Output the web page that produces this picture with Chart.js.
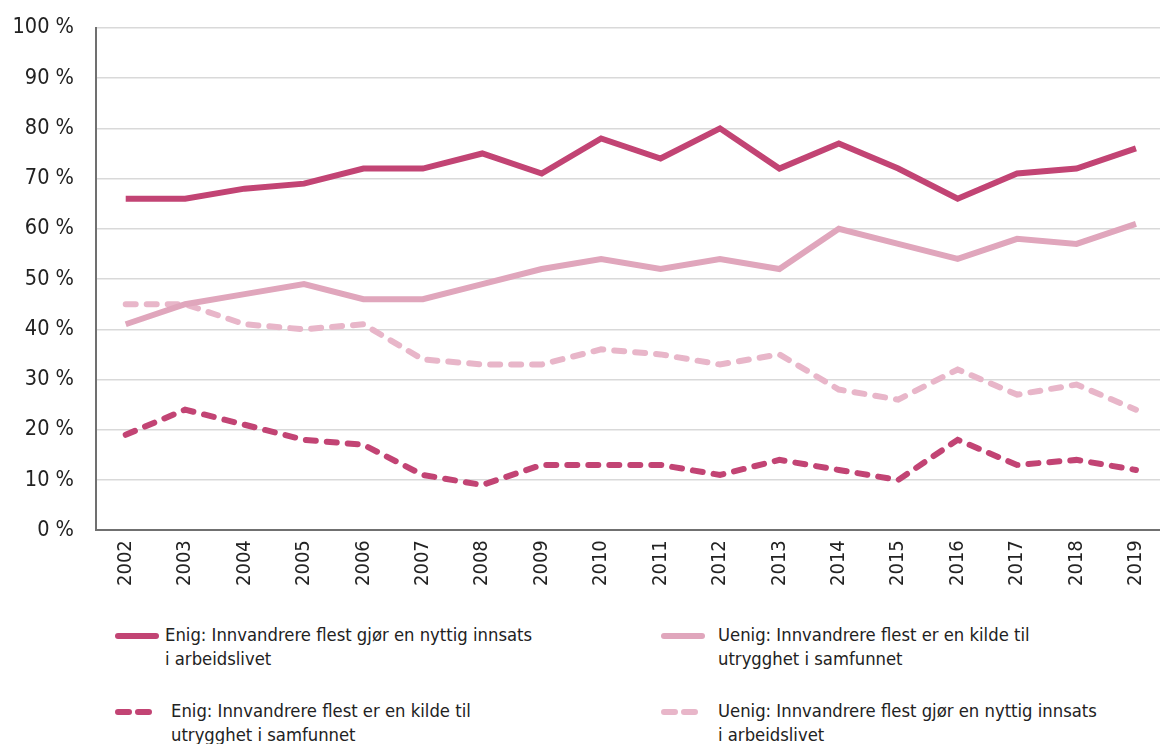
<!DOCTYPE html>
<html>
<head>
<meta charset="utf-8">
<script src="https://cdn.jsdelivr.net/npm/chart.js@4/dist/chart.umd.min.js"></script>
<style>
  html, body { margin: 0; padding: 0; background: #fff; overflow: hidden; width: 1160px; height: 744px; }
  #wrap { position: absolute; left: 0; top: -7px; width: 1170px; height: 603px; }
  #legend { position: absolute; left: 0; top: 614px; width: 1160px; height: 130px;
            font-family: "DejaVu Sans Condensed", "DejaVu Sans", sans-serif; font-size: 18.3px; color: #222; }
  .item { position: absolute; line-height: 24px; }
  .item .txt { position: absolute; white-space: nowrap; }
  .item canvas { position: absolute; }
</style>
</head>
<body>
<div id="wrap"><canvas id="c" width="1170" height="603"></canvas></div>
<div id="legend"></div>
<script>
const years = ["2002","2003","2004","2005","2006","2007","2008","2009","2010","2011","2012","2013","2014","2015","2016","2017","2018","2019"];
const enigNyttig   = [66,66,68,69,72,72,75,71,78,74,80,72,77,72,66,71,72,76];
const uenigKilde   = [41,45,47,49,46,46,49,52,54,52,54,52,60,57,54,58,57,61];
const enigKilde    = [19,24,21,18,17,11,9,13,13,13,11,14,12,10,18,13,14,12];
const uenigNyttig  = [45,45,41,40,41,34,33,33,36,35,33,35,28,26,32,27,29,24];
const labelEnigNyttig  = ["Enig: Innvandrere flest gjør en nyttig innsats", "i arbeidslivet"];
const labelUenigKilde  = ["Uenig: Innvandrere flest er en kilde til", "utrygghet i samfunnet"];
const labelEnigKilde   = ["Enig: Innvandrere flest er en kilde til", "utrygghet i samfunnet"];
const labelUenigNyttig = ["Uenig: Innvandrere flest gjør en nyttig innsats", "i arbeidslivet"];

const dark = "#c24474";
const light = "#e0a6bc";
const lightDash = "#e8b6c9";
const FONT = "'DejaVu Sans Condensed', 'DejaVu Sans', sans-serif";

const datasets = [
  { label: labelEnigNyttig, data: enigNyttig, borderColor: dark, dash: [] , legend: {x: 115, y: 22, tx: 50} },
  { label: labelUenigKilde, data: uenigKilde, borderColor: light, dash: [], legend: {x: 661, y: 22, tx: 57} },
  { label: labelEnigKilde, data: enigKilde, borderColor: dark, dash: [10, 11], legend: {x: 115, y: 98, tx: 56} },
  { label: labelUenigNyttig, data: uenigNyttig, borderColor: lightDash, dash: [10, 11], legend: {x: 661, y: 98, tx: 57} }
];

const chart = new Chart(document.getElementById('c'), {
  type: 'line',
  data: {
    labels: years,
    datasets: datasets.map(d => ({
      label: d.label.join(' '),
      data: d.data,
      borderColor: d.borderColor,
      backgroundColor: d.borderColor,
      borderWidth: 6,
      borderDash: d.dash,
      borderCapStyle: d.dash.length ? 'round' : 'butt',
      borderJoinStyle: 'miter',
      pointRadius: 0,
      tension: 0,
      fill: false
    }))
  },
  options: {
    responsive: false,
    animation: false,
    layout: { padding: { left: 0, right: 2, top: 9, bottom: 0 } },
    plugins: { legend: { display: false }, tooltip: { enabled: false } },
    scales: {
      x: {
        offset: true,
        grid: { display: false, drawTicks: false },
        border: { display: true, color: '#707070', width: 2 },
        ticks: { color: '#222', font: { family: FONT, size: 20 }, maxRotation: 90, minRotation: 90, padding: 10, autoSkip: false }
      },
      y: {
        min: 0, max: 100,
        afterFit: (s) => { s.width = 96; },
        grid: { color: '#d9d9d9', lineWidth: 1.5, drawTicks: false },
        border: { display: true, color: '#707070', width: 2 },
        ticks: { stepSize: 10, color: '#222', padding: 22, font: { family: FONT, size: 21.5 },
                 callback: v => v + ' %' }
      }
    }
  }
});

// HTML legend built from datasets
const leg = document.getElementById('legend');
datasets.forEach(d => {
  const item = document.createElement('div');
  item.className = 'item';
  item.style.left = d.legend.x + 'px';
  item.style.top = d.legend.y + 'px';
  const cv = document.createElement('canvas');
  cv.width = 44; cv.height = 10;
  cv.style.left = '0px'; cv.style.top = '-5px';
  const ctx = cv.getContext('2d');
  ctx.strokeStyle = d.borderColor; ctx.lineWidth = 6; ctx.lineCap = 'round';
  ctx.beginPath();
  if (d.dash.length) {
    ctx.moveTo(3, 5); ctx.lineTo(14, 5);
    ctx.moveTo(23, 5); ctx.lineTo(34, 5);
  } else {
    ctx.moveTo(3, 5); ctx.lineTo(41, 5);
  }
  ctx.stroke();
  item.appendChild(cv);
  const t = document.createElement('div');
  t.className = 'txt';
  t.style.left = d.legend.tx + 'px';
  t.style.top = '-13px';
  t.innerHTML = d.label.join('<br>');
  item.appendChild(t);
  leg.appendChild(item);
});
</script>
</body>
</html>
